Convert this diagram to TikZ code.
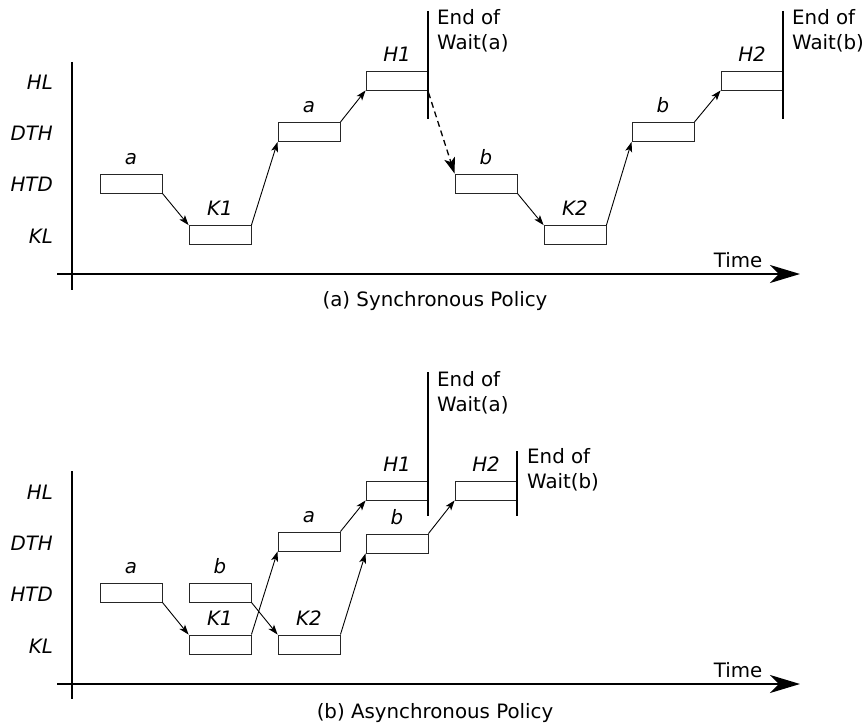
\documentclass[tikz,border=0pt]{standalone}
\usepackage{fontspec}
\setmainfont{DejaVu Sans}
\usetikzlibrary{arrows.meta}
\begin{document}
\begin{tikzpicture}[x=1pt,y=-1pt,
  box/.style={draw=black!85,line width=0.9pt,minimum width=62pt,minimum height=19pt,inner sep=0pt},
  lbl/.style={font=\fontsize{19.8}{23}\selectfont\itshape,inner sep=0pt,anchor=base},
  rowlbl/.style={font=\fontsize{19.8}{23}\selectfont\itshape,inner sep=0pt,anchor=east},
  txt/.style={font=\fontsize{19.8}{25}\selectfont,inner sep=0pt},
  axis/.style={line width=2.2pt},
  endline/.style={line width=2pt},
  conn/.style={line width=0.9pt,-{Stealth[length=10pt,width=7pt,inset=2.5pt]}},
  dconn/.style={line width=1.3pt,dash pattern=on 6pt off 4pt,-{Stealth[length=16pt,width=11pt,inset=4pt]}},
  timearrow/.style={axis,-{Stealth[length=30pt,width=18pt,inset=9pt]}}
]
\useasboundingbox (0,0) rectangle (863,725);
% ---------------- (a) synchronous ----------------
\coordinate (ya) at (72,62);
\coordinate (yb) at (72,290);
\coordinate (xa) at (57,274);
\coordinate (xb) at (800,274);
\draw[axis] (ya) -- (yb);
\draw[timearrow] (xa) -- (xb);
\node[rowlbl] (rhl) at (53,82) {HL};
\node[rowlbl] (rdth) at (53,133) {DTH};
\node[rowlbl] (rhtd) at (53,184.5) {HTD};
\node[rowlbl] (rkl) at (53,236.5) {KL};

\node[box] (sa1) at (131,183.5) {};
\node[box] (sk1) at (220,235) {};
\node[box] (sa2) at (309,132) {};
\node[box] (sh1) at (397,80.5) {};
\node[box] (sb1) at (486,183.5) {};
\node[box] (sk2) at (575,235) {};
\node[box] (sb2) at (663,132) {};
\node[box] (sh2) at (752,80.5) {};

\node[lbl] (lsa1) at ([yshift=9.5pt]sa1.north) {a};
\node[lbl] (lsk1) at ([yshift=9.5pt]sk1.north) {K1};
\node[lbl] (lsa2) at ([yshift=9.5pt]sa2.north) {a};
\node[lbl] (lsh1) at ([yshift=9.5pt]sh1.north) {H1};
\node[lbl] (lsb1) at ([yshift=9.5pt]sb1.north) {b};
\node[lbl] (lsk2) at ([yshift=9.5pt]sk2.north) {K2};
\node[lbl] (lsb2) at ([yshift=9.5pt]sb2.north) {b};
\node[lbl] (lsh2) at ([yshift=9.5pt]sh2.north) {H2};

\draw[conn] (sa1.south east) -- (sk1.north west);
\draw[conn] (sk1.north east) -- (sa2.south west);
\draw[conn] (sa2.north east) -- (sh1.south west);
\draw[dconn] ([yshift=-2pt]sh1.south east) -- (sb1.north west);
\draw[conn] (sb1.south east) -- (sk2.north west);
\draw[conn] (sk2.north east) -- (sb2.south west);
\draw[conn] (sb2.north east) -- (sh2.south west);

\coordinate (se1a) at (428,11);
\coordinate (se1b) at (428,119);
\coordinate (se2a) at (783,11);
\coordinate (se2b) at (783,119);
\draw[endline] (se1a) -- (se1b);
\draw[endline] (se2a) -- (se2b);
\node[txt,anchor=west,align=left] (sen1) at (437,31) {End of\\Wait(a)};
\node[txt,anchor=west,align=left] (sen2) at (792,31) {End of\\Wait(b)};
\node[txt] (stime) at (738,260) {Time};
\node[txt] (scap) at (435,301) {(a) Synchronous Policy};

% ---------------- (b) asynchronous ----------------
\coordinate (ya2) at (72,471);
\coordinate (yb2) at (72,699);
\coordinate (xa2) at (57,684);
\coordinate (xb2) at (800,684);
\draw[axis] (ya2) -- (yb2);
\draw[timearrow] (xa2) -- (xb2);
\node[rowlbl] (rhl2) at (53,492) {HL};
\node[rowlbl] (rdth2) at (53,543) {DTH};
\node[rowlbl] (rhtd2) at (53,594.5) {HTD};
\node[rowlbl] (rkl2) at (53,646.5) {KL};

\node[box] (aa1) at (131,592.5) {};
\node[box] (ab1) at (220,592.5) {};
\node[box] (ak1) at (220,644.5) {};
\node[box] (ak2) at (309,644.5) {};
\node[box] (aa2) at (309,541.5) {};
\node[box] (ab2) at (397,543.5) {};
\node[box] (ah1) at (397,490.5) {};
\node[box] (ah2) at (486,490.5) {};

\node[lbl] (laa1) at ([yshift=9.5pt]aa1.north) {a};
\node[lbl] (lab1) at ([yshift=9.5pt]ab1.north) {b};
\node[lbl] (lak1) at ([yshift=9.5pt]ak1.north) {K1};
\node[lbl] (lak2) at ([yshift=9.5pt]ak2.north) {K2};
\node[lbl] (laa2) at ([yshift=9.5pt]aa2.north) {a};
\node[lbl] (lab2) at ([yshift=9.5pt]ab2.north) {b};
\node[lbl] (lah1) at ([yshift=9.5pt]ah1.north) {H1};
\node[lbl] (lah2) at ([yshift=9.5pt]ah2.north) {H2};

\draw[conn] (aa1.south east) -- (ak1.north west);
\draw[conn] (ab1.south east) -- (ak2.north west);
\draw[conn] (ak1.north east) -- (aa2.south west);
\draw[conn] (ak2.north east) -- (ab2.south west);
\draw[conn] (aa2.north east) -- (ah1.south west);
\draw[conn] (ab2.north east) -- (ah2.south west);

\coordinate (ae1a) at (428,372);
\coordinate (ae1b) at (428,516);
\coordinate (ae2a) at (517,451);
\coordinate (ae2b) at (517,516);
\draw[endline] (ae1a) -- (ae1b);
\draw[endline] (ae2a) -- (ae2b);
\node[txt,anchor=west,align=left] (aen1) at (437,393) {End of\\Wait(a)};
\node[txt,anchor=west,align=left] (aen2) at (527,470) {End of\\Wait(b)};
\node[txt] (atime) at (738,670) {Time};
\node[txt] (acap) at (435,713) {(b) Asynchronous Policy};
\end{tikzpicture}
\end{document}
